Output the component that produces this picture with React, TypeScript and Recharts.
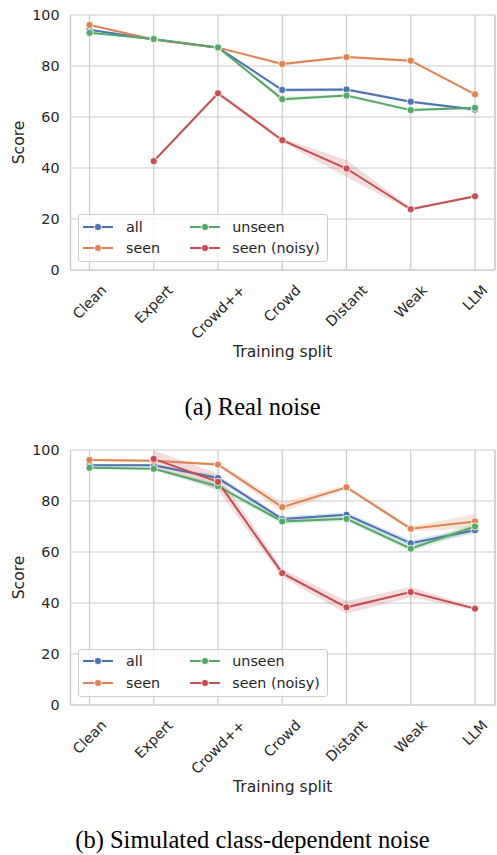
import React from "react";
import {
  Area,
  CartesianGrid,
  ComposedChart,
  Label,
  Legend,
  Line,
  XAxis,
  YAxis,
} from "recharts";

const splits = ["Clean", "Expert", "Crowd++", "Crowd", "Distant", "Weak", "LLM"];
const yTicks = [0, 20, 40, 60, 80, 100];

// (a) real noise
const realAll = [94.2, 90.4, 87.2, 70.6, 70.8, 66.0, 62.9];
const realSeen = [96.1, 90.4, 87.2, 80.8, 83.5, 82.1, 68.9];
const realUnseen = [93.0, 90.6, 87.3, 67.0, 68.4, 62.7, 63.6];
const realNoisy = [null, 42.7, 69.3, 50.9, 39.8, 23.8, 28.9];
const realAllErr = [0.4, 0.3, 0.3, 0.8, 0.6, 0.6, 0.5];
const realSeenErr = [0.4, 0.3, 0.3, 0.7, 0.5, 0.5, 0.6];
const realUnseenErr = [0.4, 0.3, 0.3, 0.8, 0.6, 0.6, 0.5];
const realNoisyErr = [null, 0.6, 0.8, 0.8, 3.3, 0.6, 0.5];

// (b) simulated class-dependent noise
const simAll = [94.0, 94.0, 89.0, 72.9, 74.6, 63.4, 68.5];
const simSeen = [96.1, 95.8, 94.3, 77.6, 85.4, 69.1, 72.0];
const simUnseen = [93.0, 92.6, 85.8, 72.0, 73.0, 61.3, 70.0];
const simNoisy = [null, 96.5, 87.5, 51.7, 38.3, 44.3, 37.8];
const simAllErr = [0.5, 0.5, 1.0, 1.0, 1.0, 1.2, 1.3];
const simSeenErr = [0.4, 0.4, 0.7, 2.0, 0.8, 1.0, 2.8];
const simUnseenErr = [0.5, 0.5, 1.4, 1.0, 0.8, 1.2, 1.5];
const simNoisyErr = [null, 3.3, 3.3, 1.6, 2.5, 2.0, 0.5];

const seriesNames = ["all", "seen", "unseen", "seen (noisy)"];
const seriesKeys = ["all", "seen", "unseen", "noisy"];
const seriesColors = ["#4C72B0", "#DD8452", "#55A868", "#C44E52"];

const TEXT = "#262626";
const GRID = "#cccccc";
const SANS = "'DejaVu Sans', sans-serif";

function buildRows(values: (number | null)[][], errs: (number | null)[][]) {
  return splits.map((split, i) => {
    const row: Record<string, any> = { split };
    seriesKeys.forEach((key, s) => {
      const v = values[s][i];
      const e = errs[s][i];
      row[key] = v;
      row[key + "Band"] = v == null || e == null ? null : [v - e, v + e];
    });
    return row;
  });
}

const realRows = buildRows(
  [realAll, realSeen, realUnseen, realNoisy],
  [realAllErr, realSeenErr, realUnseenErr, realNoisyErr]
);
const simRows = buildRows(
  [simAll, simSeen, simUnseen, simNoisy],
  [simAllErr, simSeenErr, simUnseenErr, simNoisyErr]
);

let measureCtx: CanvasRenderingContext2D | null = null;
function textWidth(s: string, font: string) {
  if (!measureCtx && typeof document !== "undefined") {
    measureCtx = document.createElement("canvas").getContext("2d");
  }
  if (!measureCtx) return s.length * 8;
  measureCtx.font = font;
  return measureCtx.measureText(s).width;
}

// matplotlib-style 45° label, centred under the tick
function SplitTick(props: any) {
  const { x, y, payload } = props;
  const label = String(payload.value);
  const w = textWidth(label, `14.3px ${SANS}`);
  const half = (w + 10.4) / (2 * Math.SQRT2);
  const cy = y + half;
  return (
    <text
      x={x}
      y={cy}
      textAnchor="middle"
      dominantBaseline="central"
      transform={`rotate(-45 ${x} ${cy})`}
      fill={TEXT}
      fontSize={14.3}
      fontFamily={SANS}
    >
      {label}
    </text>
  );
}

function XTitle(props: any) {
  const vb = props.viewBox || {};
  return (
    <text
      x={vb.x + vb.width / 2}
      y={vb.y + 82}
      textAnchor="middle"
      dominantBaseline="central"
      fill={TEXT}
      fontSize={15.6}
      fontFamily={SANS}
    >
      Training split
    </text>
  );
}

function YTitle(props: any) {
  const vb = props.viewBox || {};
  const cx = vb.x + 19;
  const cy = vb.y + vb.height / 2;
  return (
    <text
      x={cx}
      y={cy}
      textAnchor="middle"
      dominantBaseline="central"
      transform={`rotate(-90 ${cx} ${cy})`}
      fill={TEXT}
      fontSize={15.6}
      fontFamily={SANS}
    >
      Score
    </text>
  );
}

function Swatch({ color }: { color: string }) {
  return (
    <svg width={30} height={10} style={{ display: "block" }}>
      <line x1={0} y1={5} x2={30} y2={5} stroke={color} strokeWidth={2} />
      <circle cx={15} cy={5} r={3.6} fill={color} stroke="#fff" strokeWidth={0.8} />
    </svg>
  );
}

function LegendBox() {
  // column-major order like matplotlib ncol=2
  const cols = [
    [0, 1],
    [2, 3],
  ];
  const colLeft = [5.6, 112.3];
  const textLeft = [48.3, 154.6];
  const rowY = [12.5, 34];
  return (
    <div
      style={{
        position: "relative",
        width: 250.6,
        height: 48,
        boxSizing: "border-box",
        border: `1px solid ${GRID}`,
        borderRadius: 3,
        background: "rgba(255,255,255,0.8)",
        fontFamily: SANS,
        fontSize: 14.3,
        color: TEXT,
      }}
    >
      {cols.map((col, c) =>
        col.map((s, r) => (
          <React.Fragment key={s}>
            <div style={{ position: "absolute", left: colLeft[c] - 1, top: rowY[r] - 6 }}>
              <Swatch color={seriesColors[s]} />
            </div>
            <div
              style={{
                position: "absolute",
                left: textLeft[c] - 1,
                top: rowY[r] - 10,
                lineHeight: "18px",
                whiteSpace: "nowrap",
              }}
            >
              {seriesNames[s]}
            </div>
          </React.Fragment>
        ))
      )}
    </div>
  );
}

function ScoreChart({ data }: { data: Record<string, any>[] }) {
  return (
    <ComposedChart
      width={497}
      height={370}
      data={data}
      margin={{ top: 15, right: 0, bottom: 0, left: 0 }}
    >
      <CartesianGrid stroke={GRID} strokeWidth={1.2} />
      <XAxis
        dataKey="split"
        type="category"
        scale="point"
        padding={{ left: 19, right: 20 }}
        height={100}
        interval={0}
        tickSize={0}
        tickMargin={14}
        tickLine={false}
        axisLine={{ stroke: GRID, strokeWidth: 1.2 }}
        tick={<SplitTick />}
      >
        <Label content={<XTitle />} />
      </XAxis>
      <YAxis
        domain={[0, 100]}
        ticks={yTicks}
        width={70.5}
        tickLine={false}
        tickSize={6}
        tickMargin={5}
        axisLine={{ stroke: GRID, strokeWidth: 1.2 }}
        tick={{ fill: TEXT, fontSize: 14.3, fontFamily: SANS }}
      >
        <Label content={<YTitle />} />
      </YAxis>
      <YAxis
        yAxisId="edge"
        orientation="right"
        domain={[0, 100]}
        width={2}
        tick={false}
        tickLine={false}
        axisLine={{ stroke: GRID, strokeWidth: 1.2 }}
      />
      {seriesKeys.map((key, s) => (
        <Area
          key={key + "Band"}
          dataKey={key + "Band"}
          type="linear"
          fill={seriesColors[s]}
          fillOpacity={0.2}
          stroke="none"
          legendType="none"
          dot={false}
          activeDot={false}
          isAnimationActive={false}
        />
      ))}
      {seriesKeys.map((key, s) => (
        <Line
          key={key}
          dataKey={key}
          name={seriesNames[s]}
          type="linear"
          stroke={seriesColors[s]}
          strokeWidth={2}
          dot={{ r: 3.6, fill: seriesColors[s], stroke: "#fff", strokeWidth: 0.8 }}
          activeDot={false}
          isAnimationActive={false}
        />
      ))}
      <Legend
        layout="horizontal"
        verticalAlign="middle"
        align="center"
        content={() => <LegendBox />}
        wrapperStyle={{ left: 77.7, top: 214.3, width: 250.6, height: 48, bottom: "auto" }}
      />
    </ComposedChart>
  );
}

const captionStyle: React.CSSProperties = {
  position: "absolute",
  left: 0,
  width: 505,
  textAlign: "center",
  fontFamily: "'Liberation Serif', 'Times New Roman', serif",
  fontSize: 24.5,
  lineHeight: "30px",
  color: "#000",
  whiteSpace: "nowrap",
};

export default function App() {
  return (
    <div
      style={{
        position: "absolute",
        left: 0,
        top: 0,
        width: 497,
        height: 855,
        background: "#fff",
      }}
    >
      <div style={{ position: "absolute", left: 0, top: 0 }}>
        <ScoreChart data={realRows} />
      </div>
      <div style={{ ...captionStyle, top: 407 - 15 }}>(a) Real noise</div>
      <div style={{ position: "absolute", left: 0, top: 434.5 }}>
        <ScoreChart data={simRows} />
      </div>
      <div style={{ ...captionStyle, top: 840 - 15 }}>
        (b) Simulated class-dependent noise
      </div>
    </div>
  );
}
